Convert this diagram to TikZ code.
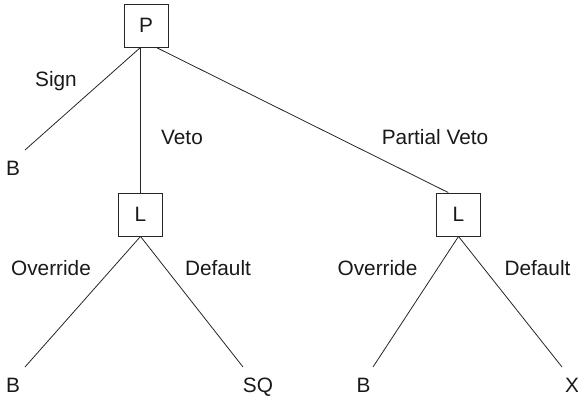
\documentclass[tikz,border=0pt]{standalone}
\usepackage{fontspec}
\setmainfont{Liberation Sans}

\begin{document}
\begin{tikzpicture}[x=1pt, y=-1pt,
  every node/.style={font=\fontsize{20.8}{25}\selectfont, text=black!90},
  mover/.style={draw=black!85, line width=0.9pt, minimum width=44pt, minimum height=43pt, inner sep=0pt},
  branch/.style={black!85, line width=0.8pt},
  lbl/.style={anchor=base, inner sep=0pt}]
\useasboundingbox (0,0) rectangle (578,398);

% Decision nodes
\node[mover] (P) at (146,25.5) {P};
\node[mover] (L1) at (140.5,214.5) {L};
\node[mover] (L2) at (458.5,214.5) {L};

% Branch ends
\coordinate (endSign) at (25,150);
\coordinate (endOver1) at (25,367);
\coordinate (endDef1) at (243,367);
\coordinate (endOver2) at (373,367);
\coordinate (endDef2) at (562,367);

% Branches from P
\draw[branch] (P.south -| L1.north) -- (endSign);
\draw[branch] (P.south -| L1.north) -- (L1);
\draw[branch] (P.-65) -- (L2.115);

% Branches from the two L nodes
\draw[branch] (L1.south) -- (endOver1);
\draw[branch] (L1.south) -- (endDef1);
\draw[branch] (L2.south) -- (endOver2);
\draw[branch] (L2.south) -- (endDef2);

% Actions
\node[lbl] (aSign) at (56,87) {Sign};
\node[lbl] (aVeto) at (182,145) {Veto};
\node[lbl] (aPartial) at (435,145) {Partial Veto};
\node[lbl] (aOver1) at (51,275) {Override};
\node[lbl] (aDef1) at (218,275) {Default};
\node[lbl] (aOver2) at (377.5,275) {Override};
\node[lbl] (aDef2) at (537.5,275) {Default};

% Outcomes
\node[lbl] (oSign) at (13,175.5) {B};
\node[lbl] (oOver1) at (13,392.5) {B};
\node[lbl] (oDef1) at (258,392.5) {SQ};
\node[lbl] (oOver2) at (363.5,392.5) {B};
\node[lbl] (oDef2) at (572,392.5) {X};
\end{tikzpicture}
\end{document}
